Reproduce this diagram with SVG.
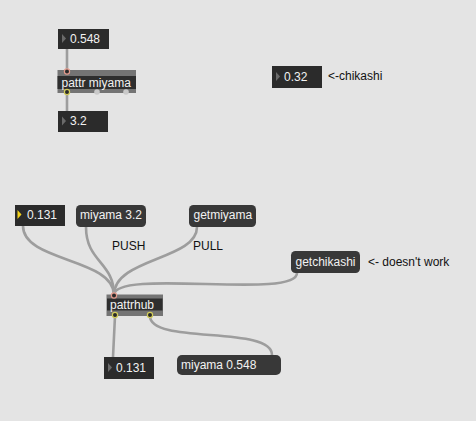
<svg xmlns="http://www.w3.org/2000/svg" width="476" height="421" viewBox="0 0 476 421">
<style>
text{font-family:"Liberation Sans",Arial,Helvetica,sans-serif;font-size:12px}
.num{fill:#2b2b2b}
.msg{fill:#383838}
.objframe{fill:#747474}
.objbody{fill:#2e2e2e}
.lt{fill:#f2f2f2}
.cm{fill:#111111}
.tri{fill:#6a6a6a}
.cord{fill:none;stroke:#9d9d9d;stroke-width:2.6;stroke-linecap:round}
.inlet{fill:#2a2a2a;stroke:#e49a8c;stroke-width:1.2}
.outlet{fill:#2a2a2a;stroke:#d2cc5a;stroke-width:1.2}
.port{fill:#c9c9c9}
</style>
<rect width="476" height="421" fill="#e4e4e4"/>

<g id="connectors">
<path class="cord" d="M67,49 L67,71"/>
<path class="cord" d="M67,93 L67,111"/>
<path class="cord" d="M23,226 C23,262 114,258 114,295"/>
<path class="cord" d="M86,227 C86,262 114,262 114,295"/>
<path class="cord" d="M197,227 C197,260 114,258 114,295"/>
<path class="cord" d="M297,273 C297,300 114,268 114,295"/>
<path class="cord" d="M115,316 L113,357"/>
<path class="cord" d="M150,316 C150,345 272,325 272,355"/>
</g>

<g id="num-0548">
<rect class="num" x="58" y="29" width="51" height="20"/>
<path class="tri" d="M62,34 L66,38.5 L62,43 Z"/>
<text class="lt" x="70" y="42.5">0.548</text>
</g>

<g id="pattr-miyama">
<rect class="objframe" x="57.5" y="70" width="78.5" height="23"/>
<rect class="objbody" x="57.5" y="76" width="78.5" height="13"/>
<text class="lt" x="61.5" y="87">pattr miyama</text>
<circle class="inlet" cx="67" cy="71.5" r="2.6"/>
<circle class="outlet" cx="67" cy="92" r="2.6"/>
<circle class="port" cx="97" cy="92" r="2.8"/>
<circle class="port" cx="126" cy="92" r="2.8"/>
</g>

<g id="num-32">
<rect class="num" x="58" y="111" width="50" height="21"/>
<path class="tri" d="M62,116.5 L66,121 L62,125.5 Z"/>
<text class="lt" x="70" y="125">3.2</text>
</g>

<g id="num-chikashi">
<rect class="num" x="272" y="66" width="50" height="22"/>
<path class="tri" d="M276,72 L280,76.5 L276,81 Z"/>
<text class="lt" x="284" y="80.5">0.32</text>
</g>
<text id="comment-chikashi" class="cm" x="328" y="80">&lt;-chikashi</text>

<g id="num-0131-top">
<rect class="num" x="15" y="205" width="50" height="21"/>
<path d="M17.5,210 L21.5,214.5 L17.5,219 Z" fill="#f3d21a"/>
<text class="lt" x="27" y="219">0.131</text>
</g>

<g id="msg-miyama32">
<rect class="msg" x="76" y="205" width="70" height="22" rx="4.5"/>
<text class="lt" x="80" y="219">miyama 3.2</text>
</g>

<g id="msg-getmiyama">
<rect class="msg" x="189" y="205" width="67" height="22" rx="4.5"/>
<text class="lt" x="193.5" y="219">getmiyama</text>
</g>

<text id="comment-push" class="cm" x="112" y="250">PUSH</text>
<text id="comment-pull" class="cm" x="193" y="250">PULL</text>

<g id="msg-getchikashi">
<rect class="msg" x="291" y="251" width="69" height="22" rx="4.5"/>
<text class="lt" x="295.5" y="265.5">getchikashi</text>
</g>
<text id="comment-doesnt" class="cm" x="368" y="266">&lt;- doesn't work</text>

<g id="pattrhub">
<rect class="objframe" x="106.5" y="294.5" width="56.5" height="21.5"/>
<rect class="objbody" x="107" y="298.5" width="55.5" height="12"/>
<text class="lt" x="110" y="309">pattrhub</text>
<circle class="inlet" cx="114" cy="295.5" r="2.6"/>
<circle class="outlet" cx="115" cy="315" r="2.6"/>
<circle class="outlet" cx="150" cy="315" r="2.6"/>
</g>

<g id="num-0131-bottom">
<rect class="num" x="104" y="357" width="50" height="22"/>
<path class="tri" d="M108,363 L112,367.5 L108,372 Z"/>
<text class="lt" x="116" y="372">0.131</text>
</g>

<g id="msg-miyama0548">
<rect class="msg" x="177" y="355" width="104" height="20" rx="5"/>
<text class="lt" x="181" y="368.5">miyama 0.548</text>
</g>
</svg>
